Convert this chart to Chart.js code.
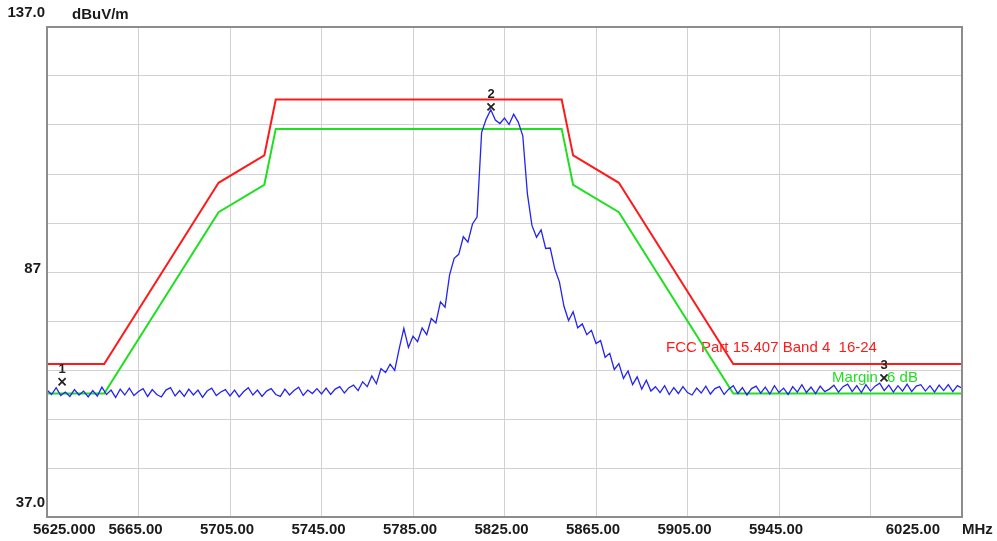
<!DOCTYPE html>
<html>
<head>
<meta charset="utf-8">
<script src="https://cdn.jsdelivr.net/npm/chart.js@4.4.0/dist/chart.umd.min.js"></script>
<style>
  html, body { margin: 0; padding: 0; background: #fff; }
  canvas { display: block; }
</style>
</head>
<body>
<canvas id="specChart" width="997" height="541"></canvas>
<script>
// sweep 5625 .. 6025 MHz, one reading every 2 MHz
const sweepStart = 5625;
const sweepStep = 2;
const traceLevels = [
    62.9, 62.0, 63.4, 61.8, 62.5, 61.6, 63.0, 61.9, 62.7, 61.5,
    62.8, 61.7, 63.5, 62.0, 62.9, 61.4, 63.1, 61.9, 63.3, 61.8,
    62.6, 63.2, 61.6, 63.0, 62.0, 61.5, 62.9, 63.4, 61.7, 62.8,
    61.6, 63.1, 61.9, 62.9, 61.4, 62.7, 63.3, 61.8, 62.5, 63.0,
    61.7, 62.9, 61.5, 62.6, 63.4, 61.9, 62.9, 61.6, 62.7, 63.2,
    62.0, 61.6, 63.1, 61.9, 62.8, 63.5, 61.8, 62.9, 62.2, 63.2,
    62.1, 63.3, 62.0, 63.1, 63.6, 62.3, 63.4, 63.9, 62.8, 64.6,
    63.6, 65.8, 64.2, 67.3, 66.5, 68.2, 66.9, 71.4, 75.5, 71.6,
    73.9, 72.8, 75.6, 74.2, 77.5, 76.6, 80.9, 79.8, 86.4, 89.8,
    90.6, 94.2, 93.1, 96.8, 98.2, 115.5, 118.2, 120.1, 118.0, 117.3,
    118.4, 117.1, 119.2, 117.6, 114.8, 103.0, 96.5, 94.1, 95.6, 91.8,
    91.9, 87.6, 85.0, 80.0, 77.1, 78.9, 75.6, 76.4, 74.2, 75.1,
    72.4, 73.0, 69.6, 70.4, 67.1, 68.3, 65.3, 66.8, 64.0, 65.6,
    63.1, 64.9, 62.7, 63.6, 62.4, 63.8,
    62.0, 63.4, 62.2, 63.6, 62.4, 61.9, 63.3, 62.3, 63.7, 62.1,
    63.2, 63.6, 62.0, 63.1, 63.8, 62.2, 63.4, 61.9, 63.2, 63.7,
    62.3, 63.5, 62.1, 63.8, 62.4, 63.3, 62.0, 63.6, 62.5, 64.0,
    62.4, 63.5, 62.2, 63.7, 62.6, 63.1, 63.9, 62.5, 63.6, 64.1,
    62.6, 63.8, 62.4, 64.0, 62.7, 63.7, 64.3, 62.8, 63.9, 62.5,
    63.8, 62.7, 64.1, 62.6, 63.7, 64.0, 62.7, 63.8, 62.5, 63.9,
    62.8, 64.0, 62.6, 63.8, 63.3
];

// FCC 15.407 band 4 limit and the -6 dB margin line (dBuV/m)
const limitFreqs = [5625, 5650, 5700, 5720, 5725, 5850, 5855, 5875, 5925, 6025];
const limitLevels = [68.2, 68.2, 105.2, 110.8, 122.2, 122.2, 110.8, 105.2, 68.2, 68.2];
const marginLevels = [62.2, 62.2, 99.2, 104.8, 116.2, 116.2, 104.8, 99.2, 62.2, 62.2];

const markerNames = ['1', '2', '3'];
const markerFreqs = [5631.6, 5819.1, 5990.9];
const markerLevels = [64.6, 120.7, 65.4];

const xTickValues = [5625, 5665, 5705, 5745, 5785, 5825, 5865, 5905, 5945, 6025];
const xTickLabels = ['5625.000', '5665.00', '5705.00', '5745.00', '5785.00', '5825.00', '5865.00', '5905.00', '5945.00', '6025.00'];
const yTickValues = [137, 87, 37];
const yTickLabels = ['137.0', '87', '37.0'];

const tracePoints = traceLevels.map((v, i) => ({ x: sweepStart + i * sweepStep, y: v }));
const limitPoints = limitFreqs.map((f, i) => ({ x: f, y: limitLevels[i] }));
const marginPoints = limitFreqs.map((f, i) => ({ x: f, y: marginLevels[i] }));
const markerPoints = markerFreqs.map((f, i) => ({ x: f, y: markerLevels[i] }));

const axisFont = 'bold 15px "Liberation Sans", Arial, sans-serif';
const noteFont = '15px "Liberation Sans", Arial, sans-serif';

const analyzerText = {
    id: 'analyzerText',
    beforeDatasetsDraw(chart) {
        const { ctx, scales: { x, y } } = chart;
        ctx.save();
        ctx.font = noteFont;
        ctx.textBaseline = 'middle';
        ctx.textAlign = 'left';
        ctx.fillStyle = '#ff1a1a';
        ctx.fillText('FCC Part 15.407 Band 4  16-24', x.getPixelForValue(5895.6), y.getPixelForValue(71.5));
        ctx.fillStyle = '#1fe01f';
        ctx.fillText('Margin -6 dB', x.getPixelForValue(5968.2), y.getPixelForValue(65.4));
        ctx.restore();
    },
    afterDatasetsDraw(chart) {
        const { ctx, chartArea: a, scales: { x, y } } = chart;
        ctx.save();
        // frame
        ctx.strokeStyle = '#8c8c8c';
        ctx.lineWidth = 2;
        ctx.strokeRect(a.left, a.top, a.right - a.left, a.bottom - a.top);

        ctx.fillStyle = '#1a1a1a';
        ctx.font = axisFont;
        ctx.textBaseline = 'middle';

        // x labels
        xTickValues.forEach((v, i) => {
            let px = x.getPixelForValue(v) - 3;
            ctx.textAlign = 'center';
            if (i === 0) { ctx.textAlign = 'left'; px = a.left - 14; }
            if (i === xTickValues.length - 1) { ctx.textAlign = 'right'; px = a.right - 22; }
            ctx.fillText(xTickLabels[i], px, a.bottom + 13);
        });
        ctx.textAlign = 'left';
        ctx.fillText('MHz', a.right, a.bottom + 13);

        // y labels
        ctx.textAlign = 'right';
        yTickValues.forEach((v, i) => {
            const off = (v === 87) ? -3 : -14;
            const px = (v === 87) ? a.left - 6 : a.left - 2;
            ctx.fillText(yTickLabels[i], px, y.getPixelForValue(v) + off);
        });
        ctx.textAlign = 'left';
        ctx.fillText('dBuV/m', 72, a.top - 12);

        // marker numbers
        ctx.font = 'bold 13px "Liberation Sans", Arial, sans-serif';
        ctx.textAlign = 'center';
        ctx.fillStyle = '#222';
        markerNames.forEach((n, i) => {
            ctx.fillText(n, x.getPixelForValue(markerFreqs[i]), y.getPixelForValue(markerLevels[i]) - 12);
        });
        ctx.restore();
    }
};

new Chart(document.getElementById('specChart').getContext('2d'), {
    type: 'scatter',
    data: {
        datasets: [
            {
                data: markerPoints,
                showLine: false,
                pointStyle: 'crossRot',
                pointRadius: 5,
                borderColor: '#222',
                borderWidth: 1.8
            },
            {
                data: tracePoints,
                showLine: true,
                borderColor: '#2424f0',
                borderWidth: 1.3,
                pointRadius: 0,
                tension: 0
            },
            {
                data: marginPoints,
                showLine: true,
                borderColor: '#1fe01f',
                borderWidth: 2,
                pointRadius: 0,
                tension: 0
            },
            {
                data: limitPoints,
                showLine: true,
                borderColor: '#ff1a1a',
                borderWidth: 2,
                pointRadius: 0,
                tension: 0
            }
        ]
    },
    options: {
        responsive: false,
        animation: false,
        layout: { padding: { left: 47, right: 35, top: 27, bottom: 24 } },
        scales: {
            x: {
                type: 'linear',
                min: 5625,
                max: 6025,
                ticks: { display: false, stepSize: 40 },
                grid: { color: '#d2d2d2', lineWidth: 1, drawTicks: false },
                border: { display: false }
            },
            y: {
                min: 37,
                max: 137,
                ticks: { display: false, stepSize: 10 },
                grid: { color: '#d2d2d2', lineWidth: 1, drawTicks: false },
                border: { display: false }
            }
        },
        plugins: {
            legend: { display: false },
            tooltip: { enabled: false }
        }
    },
    plugins: [analyzerText]
});
</script>
</body>
</html>
